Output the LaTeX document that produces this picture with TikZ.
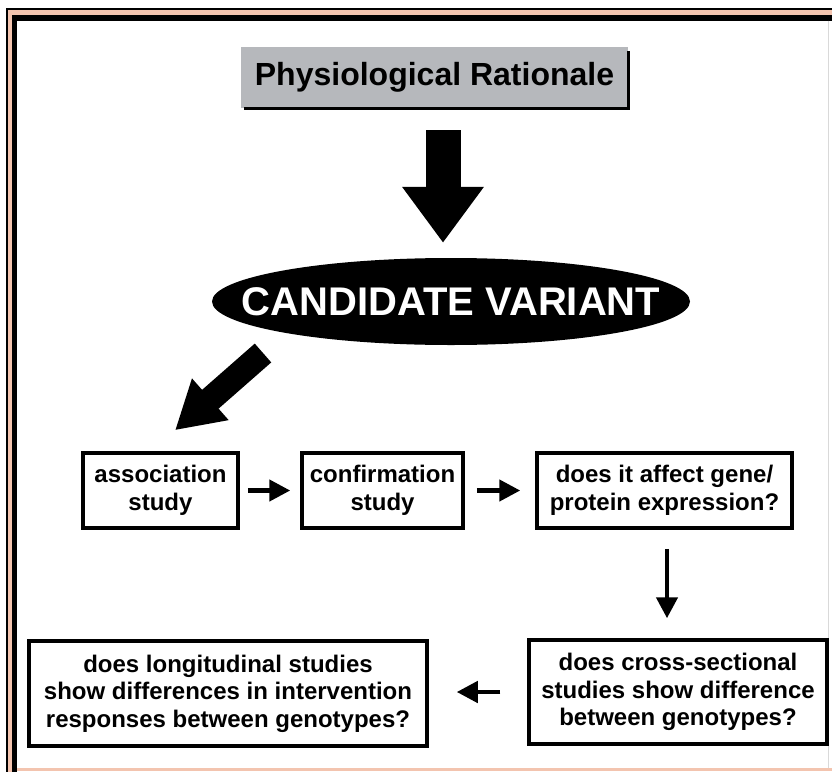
\documentclass[tikz,border=0pt]{standalone}
\usepackage{fontspec}
\setmainfont{Liberation Sans}
\usetikzlibrary{arrows.meta,shapes.geometric}
\definecolor{salmon}{RGB}{243,196,175}
\definecolor{boxgray}{RGB}{182,184,188}
\begin{document}
\begin{tikzpicture}[x=1pt,y=1pt,
  studybox/.style={draw=black,line width=3.5pt,fill=white,align=center,inner sep=0pt,
    font=\fontsize{24}{27.5}\selectfont\bfseries},
  flowarrow/.style={line width=4.5pt,-{Triangle[length=21pt,width=21pt]}},
  bigarrow/.style={line width=35pt,-{Triangle[length=56pt,width=78pt]}}]
\useasboundingbox (0,0) rectangle (832,-771);
\begin{scope}
\clip (0,0) rectangle (832,-771);
\fill [salmon] (7,-9) rectangle (900,-900);
\draw [black,line width=1.5pt] (7,-9) rectangle (900,-900);
\fill [white] (14.5,-17.8) rectangle (900,-900);
\draw [black,line width=5.5pt] (14.5,-17.8) rectangle (900,-900);
\fill [white] (17.3,-20.6) rectangle (900,-900);
\draw [salmon,line width=2.5pt] (17.3,-769.5) -- (832,-769.5);
\draw [black!15,line width=1pt] (828.5,-20.6) -- (828.5,-768);
\end{scope}
\node [fill=boxgray,minimum width=387pt,minimum height=61pt,inner sep=0pt,
  font=\fontsize{32}{36}\selectfont\bfseries] (phys) at (434.5,-77.5) {Physiological Rationale};
\draw [black,line width=3pt] ([xshift=3pt]phys.south west) -- (phys.south east) -- ([yshift=-4pt]phys.north east);
\node [ellipse,fill=black,text=white,minimum width=478pt,minimum height=87pt,inner sep=0pt,
  font=\fontsize{40}{44}\selectfont\bfseries] (cand) at (451,-301.5) {\makebox[0pt]{CANDIDATE VARIANT}};
\node [studybox,minimum width=155pt,minimum height=75pt] (assoc) at (160.5,-490.5) {association\\study};
\node [studybox,minimum width=161pt,minimum height=75pt] (conf) at (382.5,-490.5) {confirmation\\study};
\node [studybox,minimum width=255pt,minimum height=75pt] (affect) at (664.5,-490.5) {does it affect gene/\\protein expression?};
\node [studybox,minimum width=298pt,minimum height=104pt] (cross) at (678,-692) {does cross-sectional\\studies show difference\\between genotypes?};
\node [studybox,minimum width=398pt,minimum height=105pt] (long) at (228,-693.5) {does longitudinal studies\\show differences in intervention\\responses between genotypes?};
\coordinate (diagtail) at (263,-353);
\draw [bigarrow,shorten <=22pt,shorten >=15pt] ([xshift=8.5pt]phys.south) -- ([xshift=8.5pt]phys.south |- cand.north);
\draw [line width=25pt,-{Triangle[length=47pt,width=52pt]}] (diagtail) -- ([shift={(14.5,21)}]assoc.north);
\draw [flowarrow,shorten <=8pt,shorten >=10pt] (assoc.east) -- (conf.west);
\draw [flowarrow,shorten <=12pt,shorten >=15pt] (conf.east) -- (affect.west);
\draw [flowarrow,shorten <=19pt,shorten >=20pt] ([xshift=2.5pt]affect.south) -- ([xshift=2.5pt]affect.south |- cross.north);
\draw [flowarrow,shorten <=27pt,shorten >=28pt] (cross.west) -- (cross.west -| long.east);
\end{tikzpicture}
\end{document}
